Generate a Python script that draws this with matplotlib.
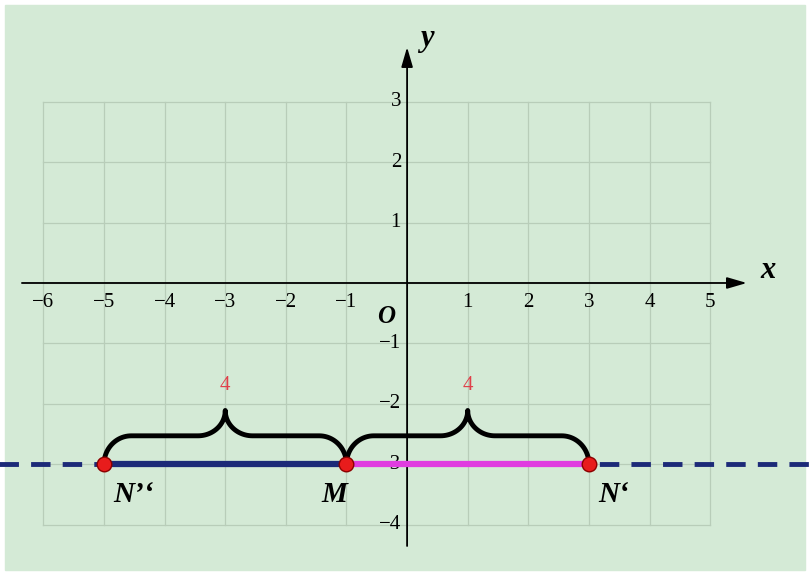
import numpy as np
import matplotlib.pyplot as plt
from matplotlib.patches import Rectangle

# data
x_ticks = [-6, -5, -4, -3, -2, -1, 1, 2, 3, 4, 5]
y_ticks = [3, 2, 1, -1, -2, -3, -4]
points_x = [-5, -1, 3]
points_lbl = ["N’‘", "M", "N‘"]
line_y = -3
brace_spans = [(-5, -1), (-1, 3)]
brace_lbl = ["4", "4"]

serif = "Liberation Serif"
bg = "#d4ead6"

fig = plt.figure(figsize=(8.12, 5.78), dpi=100)
ax = fig.add_axes([0, 0, 1, 1])
ax.set_xlim(-6.716, 6.68)
ax.set_ylim(-4.884, 4.685)
ax.axis("off")
fig.patch.set_facecolor("white")

# green board
ax.add_patch(Rectangle((-6.63, -4.75), 13.2, 9.35, color=bg, zorder=0))

# grid
for gx in range(-6, 6):
    ax.plot([gx, gx], [-4, 3], color="#b8cdb9", lw=0.9, zorder=1)
for gy in range(-4, 4):
    ax.plot([-6, 5], [gy, gy], color="#b8cdb9", lw=0.9, zorder=1)

# axes with arrows
ax.annotate("", xy=(5.65, 0), xytext=(-6.4, 0),
            arrowprops=dict(arrowstyle="-|>,head_length=1.2,head_width=0.35", color="black", lw=1.3))
ax.annotate("", xy=(0, 3.95), xytext=(0, -4.4),
            arrowprops=dict(arrowstyle="-|>,head_length=1.2,head_width=0.35", color="black", lw=1.3))
ax.text(5.95, 0.2, "x", fontsize=22, family=serif, style="italic", weight="bold", ha="center", va="center")
ax.text(0.32, 4.05, "y", fontsize=22, family=serif, style="italic", weight="bold", ha="center", va="center")
ax.text(-0.35, -0.55, "O", fontsize=18, family=serif, style="italic", weight="bold", ha="center", va="center")

for t in x_ticks:
    ax.text(t, -0.32, "\u2212%d" % -t if t < 0 else str(t), fontsize=15, family=serif,
            ha="center", va="center")
for t in y_ticks:
    ax.text(-0.1, t, "\u2212%d" % -t if t < 0 else str(t), fontsize=15, family=serif,
            ha="right", va="center")

# dashed line y = -3
ax.plot([-6.8, 6.8], [line_y, line_y], color="#1c2a78", lw=3.5, ls=(0, (4, 2.5)), zorder=2)
ax.plot([points_x[0], points_x[1]], [line_y, line_y], color="#1c2a78", lw=4.5, zorder=3)
ax.plot([points_x[1], points_x[2]], [line_y, line_y], color="#e03ce0", lw=4.5, zorder=3)
ax.scatter(points_x, [line_y] * 3, s=110, color="#e81c1c", edgecolor="#8b0000", zorder=5)

offsets = [0.15, -0.2, 0.15]
for px, lb, dx in zip(points_x, points_lbl, offsets):
    ax.text(px + dx, line_y - 0.5, lb, fontsize=21, family=serif, style="italic",
            weight="bold", ha="left" if dx > 0 else "center", va="center")


def brace(x0, x1, y0, h, tip):
    mid = (x0 + x1) / 2
    r = 0.45
    a = np.linspace(np.pi, np.pi / 2, 25)
    xs = list(x0 + r + r * np.cos(a))
    ys = list(y0 + h * np.sin(a))
    xs += list(np.linspace(x0 + r, mid - r, 10))
    ys += [y0 + h] * 10
    a = np.linspace(-np.pi / 2, 0, 25)
    xs += list(mid - r + r * np.cos(a))
    ys += list(y0 + h + tip * (1 + np.sin(a)))
    xl, yl = np.array(xs), np.array(ys)
    xr = 2 * mid - xl[::-1]
    yr = yl[::-1]
    ax.plot(np.concatenate([xl, xr]), np.concatenate([yl, yr]), color="black", lw=3.5,
            solid_capstyle="round", zorder=4)
    return mid, y0 + h + tip


for (a, b), lb in zip(brace_spans, brace_lbl):
    mx, top = brace(a, b, line_y, 0.47, 0.42)
    ax.text(mx, top + 0.42, lb, fontsize=15, family=serif, color="#e0404a", ha="center", va="center")

fig.savefig("out.png", dpi=100, facecolor="white")
